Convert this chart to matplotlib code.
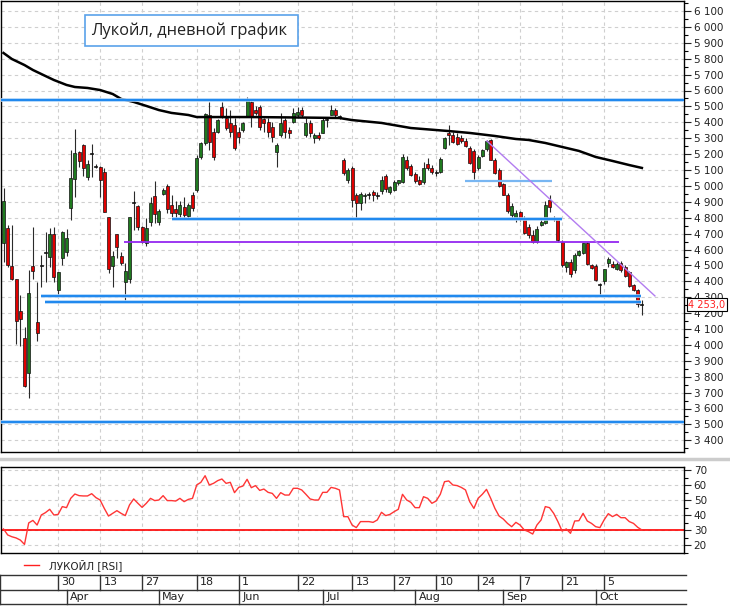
import numpy as np
import matplotlib
matplotlib.use('Agg')
import matplotlib.pyplot as plt
from matplotlib.lines import Line2D
from matplotlib.patches import Rectangle

# daily candles, Mar 11 .. Oct 16 (one entry per trading day)
opens = [4640, 4735, 4495, 4415, 4215, 4045, 3825, 4495, 4145, 4495,
         4585, 4555, 4695, 4345, 4545, 4585, 4860, 5045, 5215, 5255,
         5055, 5200, 5120, 5120, 5090, 4805, 4495, 4695, 4560, 4395,
         4415, 4900, 4875, 4740, 4640, 4775, 4935, 4775, 4950, 5000,
         4880, 4855, 4825, 4865, 4810, 4945, 4975, 5180, 5270, 5445,
         5340, 5340, 5495, 5425, 5395, 5385, 5340, 5350, 5440, 5530,
         5475, 5495, 5420, 5400, 5370, 5215, 5320, 5415, 5350, 5400,
         5445, 5475, 5320, 5395, 5300, 5320, 5335, 5415, 5445, 5475,
         5433, 5165, 5035, 5110, 4945, 4895, 4935, 4940, 4960, 4935,
         4965, 5060, 4960, 4975, 5020, 5025, 5165, 5125, 5075, 5040,
         5025, 5140, 5115, 5080, 5090, 5240, 5330, 5320, 5310, 5300,
         5285, 5240, 5220, 5115, 5190, 5230, 5290, 5165, 5100, 5010,
         4945, 4815, 4790, 4835, 4800, 4740, 4690, 4650, 4755, 4765,
         4910, 4800, 4790, 4650, 4490, 4520, 4470, 4565, 4580, 4640,
         4500, 4495, 4380, 4400, 4515, 4510, 4480, 4515, 4490, 4460,
         4375, 4345, 4255]
highs = [4985, 4755, 4755, 4415, 4315, 4115, 4470, 4740, 4395, 4565,
         4710, 4735, 4740, 4460, 4715, 4730, 5225, 5360, 5220, 5265,
         5165, 5265, 5140, 5125, 5115, 4805, 4590, 4700, 4585, 4515,
         4805, 4970, 4880, 4745, 4800, 4930, 5030, 4855, 4985, 5010,
         4945, 4905, 4905, 4930, 4895, 4960, 5195, 5275, 5460, 5530,
         5365, 5420, 5530, 5490, 5475, 5425, 5370, 5400, 5560, 5535,
         5500, 5510, 5425, 5425, 5400, 5270, 5460, 5425, 5370, 5490,
         5495, 5495, 5425, 5415, 5335, 5340, 5425, 5425, 5510, 5490,
         5445, 5175, 5110, 5125, 4955, 4960, 4955, 4960, 4975, 4960,
         5065, 5075, 5000, 5035, 5040, 5200, 5185, 5140, 5085, 5060,
         5150, 5175, 5130, 5100, 5180, 5310, 5380, 5340, 5330, 5320,
         5300, 5250, 5235, 5195, 5230, 5290, 5295, 5175, 5110, 5020,
         4955, 4890, 4850, 4845, 4810, 4760, 4720, 4750, 4790, 4905,
         4940, 4810, 4800, 4660, 4530, 4540, 4575, 4600, 4640, 4650,
         4510, 4510, 4390, 4480, 4555, 4530, 4520, 4530, 4505, 4465,
         4385, 4350, 4285]
lows = [4520, 4490, 4410, 4005, 3995, 3735, 3665, 4415, 4025, 4365,
        4395, 4490, 4395, 4310, 4505, 4560, 4785, 4930, 5120, 5060,
        5035, 5055, 5110, 4930, 4835, 4455, 4365, 4545, 4505, 4280,
        4390, 4725, 4725, 4640, 4620, 4750, 4765, 4755, 4945, 4830,
        4805, 4790, 4805, 4800, 4790, 4840, 4960, 5170, 5255, 5225,
        5165, 5335, 5425, 5350, 5310, 5225, 5270, 5340, 5435, 5370,
        5445, 5350, 5340, 5310, 5275, 5120, 5310, 5300, 5300, 5395,
        5435, 5435, 5310, 5310, 5270, 5290, 5335, 5370, 5445, 5435,
        5420, 5070, 5020, 4865, 4795, 4850, 4890, 4920, 4905, 4915,
        4950, 4960, 4950, 4965, 5005, 5020, 5100, 5060, 5020, 5005,
        5015, 5100, 5075, 5065, 5080, 5230, 5255, 5270, 5255, 5270,
        5245, 5140, 5045, 5100, 5180, 5220, 5160, 5075, 4990, 4940,
        4830, 4800, 4775, 4780, 4700, 4675, 4640, 4640, 4745, 4760,
        4835, 4780, 4645, 4490, 4460, 4430, 4450, 4560, 4570, 4505,
        4480, 4400, 4310, 4380, 4490, 4485, 4470, 4460, 4430, 4365,
        4340, 4240, 4190]
closes = [4905, 4505, 4415, 4150, 4165, 3740, 4325, 4465, 4075, 4500,
          4580, 4695, 4425, 4460, 4710, 4670, 5050, 5205, 5155, 5115,
          5140, 5205, 5120, 5035, 4835, 4480, 4560, 4615, 4515, 4465,
          4805, 4895, 4740, 4645, 4735, 4895, 4825, 4840, 4975, 4855,
          4830, 4830, 4880, 4815, 4880, 4860, 5175, 5270, 5450, 5275,
          5180, 5415, 5440, 5365, 5340, 5240, 5310, 5395, 5540, 5435,
          5460, 5370, 5395, 5340, 5310, 5255, 5395, 5340, 5335, 5460,
          5465, 5445, 5395, 5335, 5320, 5300, 5415, 5418, 5475, 5445,
          5435, 5080, 5100, 4910, 4890, 4950, 4945, 4945, 4940, 4937,
          5040, 4980, 4990, 5025, 5035, 5180, 5115, 5070, 5030, 5010,
          5110, 5115, 5085, 5082, 5170, 5300, 5320, 5275, 5265, 5285,
          5250, 5145, 5090, 5180, 5225, 5285, 5165, 5080, 5000, 4945,
          4840, 4875, 4830, 4795, 4705, 4690, 4650, 4730, 4770, 4880,
          4870, 4790, 4660, 4505, 4520, 4445, 4565, 4590, 4640, 4510,
          4485, 4410, 4375, 4475, 4540, 4490, 4510, 4470, 4435, 4370,
          4345, 4255, 4253]

rsi = [30.7, 26.7, 25.5, 24.7, 23.3, 20.4, 34.7, 36.4, 33.3, 40.0,
       41.6, 43.8, 40.0, 40.4, 45.6, 44.9, 51.1, 54.0, 52.9, 52.7,
       52.7, 54.2, 51.6, 50.0, 44.4, 39.3, 41.1, 42.9, 41.1, 39.6,
       46.7, 50.7, 47.8, 45.1, 47.8, 51.1, 49.6, 50.0, 52.9, 49.6,
       49.6, 49.3, 51.1, 48.9, 50.4, 51.1, 60.0, 61.8, 66.2, 60.0,
       61.1, 62.9, 64.0, 61.1, 61.8, 54.9, 58.4, 59.3, 63.8, 58.2,
       59.6, 56.4, 57.3, 55.1, 54.4, 51.1, 54.9, 53.3, 53.3, 57.8,
       57.8, 56.7, 53.8, 50.7, 50.0, 50.0, 55.1, 55.1, 58.4, 57.8,
       56.7, 38.9, 38.9, 33.3, 31.6, 35.6, 35.6,
       35.6, 35.1, 36.7, 41.8, 39.6, 40.4, 42.2, 43.8, 53.8, 50.0,
       48.4, 44.9, 44.9, 52.2, 51.1, 47.8, 49.3, 53.8, 62.2, 62.7,
       60.0, 59.6, 58.4, 56.7, 48.9, 44.4, 51.1, 53.8, 57.1, 51.1,
       44.4, 39.3, 37.3, 34.4, 32.2, 35.1, 33.3, 30.0, 28.9, 27.3,
       33.3, 36.7, 45.6, 44.9, 41.1, 35.6, 29.3, 30.7, 27.8, 36.0,
       36.2, 41.1, 36.0, 34.4, 32.2, 31.6, 36.7, 40.9, 38.9, 40.4,
       38.2, 38.2, 35.6, 34.4, 31.8, 30.0]
rsi_level = 30

# 200-day moving average, read at these candles
ma_idx = [0, 2, 5, 7, 10, 12, 15, 17, 20, 23, 26, 28, 31, 34, 37, 40, 44, 46,
          59, 71, 80, 83, 90, 97, 106, 111, 117, 122, 125, 129, 133, 137,
          141, 145, 149, 152]
ma_val = [5836, 5798, 5760, 5729, 5691, 5666, 5635, 5622, 5616, 5603, 5578,
          5547, 5528, 5503, 5477, 5459, 5446, 5433, 5433, 5430, 5427, 5414,
          5396, 5364, 5345, 5333, 5314, 5295, 5289, 5270, 5245, 5220, 5182,
          5157, 5131, 5113]

# drawn support / resistance levels (price, first candle, last candle)
blue_prices = [5540, 4792, 4310, 4270, 3515]
blue_from = [-1, 40.2, 8.9, 9.9, -1]
blue_to = [163, 133, 151.8, 151.8, 163]
purple_price = 4647
purple_from, purple_to = 28.7, 146.6
lightblue_price = 5030
lightblue_from, lightblue_to = 109.9, 130.6
trend_idx = [115.1, 155.1]
trend_val = [5282, 4308]

day_idx = [13, 23, 33, 46, 56, 70, 83, 93, 103, 113, 123, 133, 143]
day_labels = ['30', '13', '27', '18', '1', '22', '13', '27', '10', '24', '7', '21', '5']
month_idx = [15, 37, 56, 76, 98, 119, 141]
month_labels = ['Apr', 'May', 'Jun', 'Jul', 'Aug', 'Sep', 'Oct']

title = 'Лукойл, дневной график'
rsi_name = 'ЛУКОЙЛ [RSI]'

plt.rcParams['font.family'] = ['DejaVu Sans']
W, H = 730, 608
fig = plt.figure(figsize=(W / 100, H / 100), dpi=100)
fig.patch.set_facecolor('white')


def fx(p):
    return p / W


def fy(p):
    return 1 - p / H


step = 4.2
x0 = 3.5
xlim = ((1 - x0) / step, (684 - x0) / step)
grid_kw = dict(color='#cfcfcf', linestyle=(0, (3, 3)), linewidth=0.8)

# ---- price panel
ax = fig.add_axes([fx(1), fy(452), fx(684) - fx(1), fy(1) - fy(452)])
o = np.array(opens, float)
h = np.array(highs, float)
l = np.array(lows, float)
c = np.array(closes, float)
idx = np.arange(len(o))

ax.vlines(idx, l, h, color='#2a2a2a', linewidth=0.8, zorder=3)
bottom = np.minimum(o, c)
height = np.maximum(np.abs(c - o), 6)
cols = np.where(np.abs(c - o) < 6, '#111111', np.where(c > o, '#1f7a1f', '#e00000'))
ax.bar(idx, height, bottom=bottom, width=0.72, color=cols,
       edgecolor='#111111', linewidth=0.5, zorder=4)

ax.plot(ma_idx, ma_val, color='black', linewidth=1.8, zorder=5)

for p, a, b in zip(blue_prices, blue_from, blue_to):
    ax.hlines(p, a, b, color='#a8d0f8', linewidth=2.6, zorder=5)
    ax.hlines(p, a, b, color='#1e88ee', linewidth=1.4, zorder=6)
ax.hlines(lightblue_price, lightblue_from, lightblue_to, color='#78b6f2',
          linewidth=1.6, zorder=6)
ax.hlines(purple_price, purple_from, purple_to, color='#9428f0',
          linewidth=1.3, zorder=6)
ax.plot(trend_idx, trend_val, color='#b27cf0', linewidth=1.0, zorder=6)

ax.set_xlim(*xlim)
ax.set_ylim(6100 - 441 * 100 / 15.9, 6100 + 10 * 100 / 15.9)
ax.yaxis.tick_right()
ax.set_yticks(np.arange(3400, 6101, 100))
ax.set_yticks(np.arange(3350, 6151, 100), minor=True)
ax.set_yticklabels(['{:,}'.format(v).replace(',', ' ') for v in range(3400, 6101, 100)])
ax.set_xticks(day_idx)
ax.tick_params(axis='x', length=0, labelbottom=False)
ax.tick_params(axis='y', which='major', length=5, width=0.8, labelsize=7.5,
               pad=2, colors='#222222')
ax.tick_params(axis='y', which='minor', length=3, width=0.8)
ax.grid(True, **grid_kw)
ax.set_axisbelow(True)
for s in ax.spines.values():
    s.set_color('black')
    s.set_linewidth(1)

ax.annotate('{:,.1f}'.format(closes[-1]).replace(',', ' ').replace('.', ','),
            xy=(1.006, closes[-1]), xycoords=('axes fraction', 'data'),
            va='center', ha='left', fontsize=7, color='#ff2020', zorder=20,
            bbox=dict(boxstyle='square,pad=0.15', fc='white', ec='black', lw=0.8),
            annotation_clip=False)

# title box
fig.patches.append(Rectangle((fx(85), fy(46)), fx(298) - fx(85), fy(15) - fy(46),
                             transform=fig.transFigure, facecolor='white',
                             edgecolor='#5aa2ea', linewidth=1.2, zorder=10))
fig.text(fx(91), fy(31), title, fontsize=11.8, family='Open Sans',
         color='#222222', va='center', ha='left', zorder=11)

# separator
fig.add_artist(Line2D([0, 1], [fy(459), fy(459)], color='#cccccc', linewidth=2.5))

# ---- RSI panel
rax = fig.add_axes([fx(1), fy(553), fx(684) - fx(1), fy(467) - fy(553)])
rax.plot(np.arange(len(rsi)), rsi, color='#ff3535', linewidth=1.0, zorder=3)
rax.axhline(rsi_level, color='#ff0000', linewidth=1.2, zorder=2)
rax.set_xlim(*xlim)
rax.set_ylim(70 - 83 / 1.5, 70 + 3 / 1.5)
rax.yaxis.tick_right()
rax.set_yticks([20, 30, 40, 50, 60, 70])
rax.set_yticks([15, 25, 35, 45, 55, 65], minor=True)
rax.set_xticks(day_idx)
rax.tick_params(axis='x', length=0, labelbottom=False)
rax.tick_params(axis='y', which='major', length=5, width=0.8, labelsize=7.5,
                pad=2, colors='#222222')
rax.tick_params(axis='y', which='minor', length=3, width=0.8)
rax.grid(True, **grid_kw)
rax.set_axisbelow(True)
for s in rax.spines.values():
    s.set_color('black')
    s.set_linewidth(1)

fig.add_artist(Line2D([fx(24), fx(39)], [fy(565), fy(565)], color='#ff2020', linewidth=1.0))
fig.text(fx(49), fy(565), rsi_name, fontsize=7.5, color='#222222', va='center', ha='left')

# ---- date scale
dax = fig.add_axes([0, fy(604), fx(686), fy(575) - fy(604)])
dxl, dxr = (0 - x0) / step, (686 - x0) / step
dax.set_xlim(dxl, dxr)
dax.set_ylim(0, 2)
dax.axis('off')
line_kw = dict(color='#333333', linewidth=1.0, clip_on=False)
for yy in (0, 1, 2):
    dax.plot([dxl, dxr], [yy, yy], **line_kw)
dax.plot([dxl + 0.1, dxl + 0.1], [0, 2], **line_kw)
for d, lab in zip(day_idx, day_labels):
    dax.plot([d, d], [1, 2], **line_kw)
    dax.text(d + 0.8, 1.5, lab, fontsize=8, va='center', ha='left', color='#222222')
for m, lab in zip(month_idx, month_labels):
    dax.plot([m, m], [0, 1], **line_kw)
    dax.text(m + 0.8, 0.5, lab, fontsize=8, va='center', ha='left', color='#222222')

fig.savefig('out.png', dpi=100, facecolor='white')
